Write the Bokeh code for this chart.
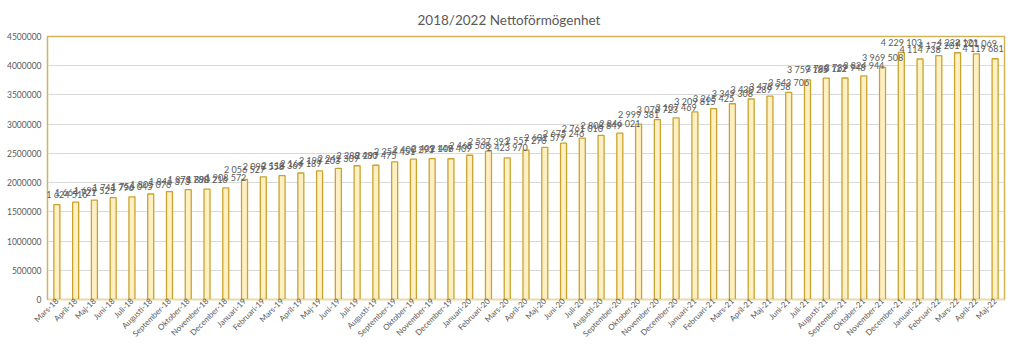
import math
from bokeh.plotting import figure
from bokeh.models import (ColumnDataSource, Range1d, FixedTicker,
                          NumeralTickFormatter, Label)
from bokeh.embed import file_html
from bokeh.resources import INLINE

months = ["Mars-18", "April-18", "Maj-18", "Juni-18", "Juli-18", "Augusti-18",
          "September-18", "Oktober-18", "November-18", "December-18",
          "Januari-19", "Februari-19", "Mars-19", "April-19", "Maj-19", "Juni-19",
          "Juli-19", "Augusti-19", "September-19", "Oktober-19", "November-19",
          "December-19", "Januari-20", "Februari-20", "Mars-20", "April-20",
          "Maj-20", "Juni-20", "Juli-20", "Augusti-20", "September-20",
          "Oktober-20", "November-20", "December-20", "Januari-21", "Februari-21",
          "Mars-21", "April-21", "Maj-21", "Juni-21", "Juli-21", "Augusti-21",
          "September-21", "Oktober-21", "November-21", "December-21",
          "Januari-22", "Februari-22", "Mars-22", "April-22", "Maj-22"]

values = [1624516, 1664721, 1699525, 1741796, 1756045, 1805076,
          1846373, 1878788, 1890216, 1908572,
          2056527, 2098558, 2118369, 2164189, 2199203, 2242309,
          2288480, 2297475, 2354451, 2400293, 2409149,
          2408409, 2468568, 2537393, 2423970, 2557270,
          2602579, 2675246, 2761010, 2808849, 2846021,
          2999381, 3078723, 3107469, 3209815, 3265425,
          3349308, 3430289, 3478958, 3543706, 3759185, 3788122,
          3789948, 3824944, 3969508, 4229103,
          4114738, 4172201, 4222121, 4201069, 4119681]

y_ticks = [0, 500000, 1000000, 1500000, 2000000, 2500000, 3000000,
           3500000, 4000000, 4500000]

title_text = "2018/2022 Nettoförmögenhet"

idx = list(range(len(months)))
labels = [f"{v:,}".replace(",", " ") for v in values]
src = ColumnDataSource(data=dict(x=idx, y=values))

FONT = "Lato"
GRAY = "#595959"
GOLD = "#D2B457"

p = figure(x_range=Range1d(-0.5, len(months) - 0.5),
           y_range=Range1d(0, 4500000),
           width=1008, height=345, output_backend="svg",
           toolbar_location=None, title=title_text,
           min_border_left=47, min_border_right=4,
           min_border_top=36, min_border_bottom=42)

p.title.align = "left"
p.title.offset = 370
p.title.standoff = 17
p.title.text_font = FONT
p.title.text_font_size = "13.5px"
p.title.text_font_style = "normal"
p.title.text_color = GRAY

p.vbar(x="x", top="y", width=0.32, source=src,
       fill_color="#FFF0C4", line_color="#C9A22F", line_width=1.3)

last = len(idx) - 1
for i, v, t in zip(idx, values, labels):
    # keep the outermost labels inside the frame (annotations are clipped)
    dx = 10 if i == 0 else (-12 if i == last else 0)
    p.add_layout(Label(x=i, y=v, text=t, text_align="center",
                       text_baseline="middle", y_offset=10, x_offset=dx,
                       text_font=FONT, text_font_size="9px",
                       text_color=GRAY))

p.outline_line_color = GOLD
p.outline_line_width = 1.5
p.background_fill_color = "white"
p.border_fill_color = "white"

p.xgrid.grid_line_color = None
p.ygrid.grid_line_color = "#D9D9D9"
p.ygrid.ticker = FixedTicker(ticks=y_ticks)

p.yaxis.ticker = FixedTicker(ticks=y_ticks)
p.yaxis.formatter = NumeralTickFormatter(format="0")
p.yaxis.axis_line_color = GOLD
p.yaxis.major_tick_line_color = None
p.yaxis.minor_tick_line_color = None
p.yaxis.major_tick_out = 0
p.yaxis.major_tick_in = 0
p.yaxis.major_label_standoff = 6
p.yaxis.major_label_text_font = FONT
p.yaxis.major_label_text_font_size = "8.5px"
p.yaxis.major_label_text_color = GRAY

p.xaxis.ticker = FixedTicker(ticks=idx)
p.xaxis.major_label_overrides = {i: m for i, m in zip(idx, months)}
p.xaxis.axis_line_color = "#D9D9D9"
p.xaxis.major_tick_line_color = None
p.xaxis.minor_tick_line_color = None
p.xaxis.major_tick_out = 0
p.xaxis.major_tick_in = 0
p.xaxis.major_label_orientation = math.pi / 4
p.xaxis.major_label_standoff = 0
p.xaxis.major_label_text_font = FONT
p.xaxis.major_label_text_font_size = "8px"
p.xaxis.major_label_text_color = GRAY

open("out.html", "w").write(file_html(p, INLINE))
